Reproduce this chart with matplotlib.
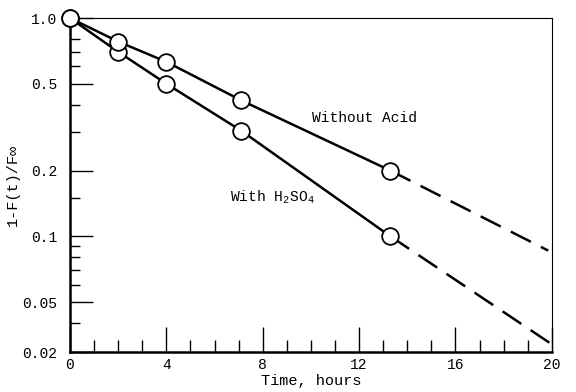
import matplotlib
matplotlib.use('Agg')
import matplotlib.pyplot as plt
from matplotlib.ticker import FixedLocator, NullFormatter

plt.rcParams['font.family'] = ['Liberation Mono', 'DejaVu Sans Mono']
plt.rcParams['mathtext.fontset'] = 'custom'
plt.rcParams['mathtext.rm'] = 'Liberation Mono'

# measured points
t_acid = [0, 2, 4, 7.1, 13.3]
y_acid = [1.0, 0.70, 0.50, 0.305, 0.10]
t_noacid = [0, 2, 4, 7.1, 13.3]
y_noacid = [1.0, 0.78, 0.63, 0.42, 0.20]

# dashed extrapolations
t_ext_acid = [13.3, 20.0]
y_ext_acid = [0.10, 0.032]
t_ext_noacid = [13.3, 19.85]
y_ext_noacid = [0.20, 0.086]

y_major = [1.0, 0.5, 0.2, 0.1, 0.05, 0.0295]
y_labels = ['1.0', '0.5', '0.2', '0.1', '0.05', '0.02']
y_minor = [0.8, 0.7, 0.6, 0.4, 0.3, 0.15, 0.09, 0.08, 0.07, 0.06, 0.04]

fig = plt.figure(figsize=(5.76, 3.92), dpi=100)
ax = fig.add_axes([0.1215, 0.102, 0.8365, 0.852])

for t, y in [(t_ext_acid, y_ext_acid), (t_ext_noacid, y_ext_noacid)]:
    ax.plot(t, y, color='black', linewidth=1.8, linestyle=(0, (9, 4.5)),
            clip_on=False, zorder=2)
for t, y in [(t_acid, y_acid), (t_noacid, y_noacid)]:
    ax.plot(t, y, color='black', linewidth=1.8, marker='o', markersize=12,
            markerfacecolor='white', markeredgecolor='black',
            markeredgewidth=1.3, clip_on=False, zorder=3)

ax.set_yscale('log')
ax.set_xlim(0, 20)
ax.set_ylim(0.0295, 1.0)

ax.set_xticks([0, 4, 8, 12, 16, 20])
ax.set_xticks(range(0, 21), minor=True)
ax.yaxis.set_major_locator(FixedLocator(y_major))
ax.set_yticklabels(y_labels)
ax.yaxis.set_minor_locator(FixedLocator(y_minor))
ax.yaxis.set_minor_formatter(NullFormatter())

ax.tick_params(axis='both', which='both', direction='in', top=False,
               right=False, labelsize=10.5, width=1.0)
ax.tick_params(axis='x', which='major', length=18, pad=4)
ax.tick_params(axis='x', which='minor', length=8.5)
ax.tick_params(axis='y', which='major', length=16.5, pad=9)
ax.tick_params(axis='y', which='minor', length=7)

ax.spines['left'].set_linewidth(1.8)
ax.spines['bottom'].set_linewidth(1.8)
ax.spines['top'].set_linewidth(0.8)
ax.spines['right'].set_linewidth(0.8)

ax.set_xlabel('Time, hours', fontsize=11, labelpad=2)
ax.set_ylabel('1-F(t)/F\u221e', fontsize=11, labelpad=2)

fig.text(365 / 576, 1 - 118 / 392, 'Without Acid', ha='center',
         va='center', fontsize=10.5)
fig.text(230 / 576, 1 - 197 / 392, 'With H$_2$SO$_4$', ha='left',
         va='center', fontsize=10.5)

plt.savefig('out.png', dpi=100)
